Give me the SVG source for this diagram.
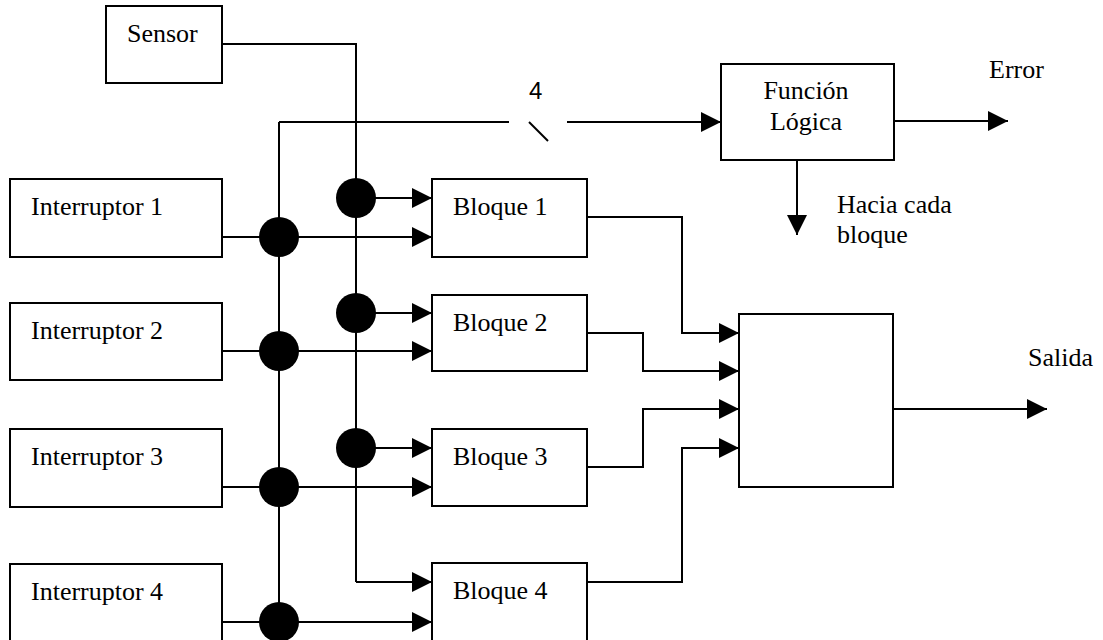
<svg xmlns="http://www.w3.org/2000/svg" width="1103" height="640" viewBox="0 0 1103 640">
<style>
.box{fill:#fff;stroke:#000;stroke-width:2}
.t{font-family:"Liberation Serif","Times New Roman",serif;font-size:26px;fill:#000}
.w{fill:none;stroke:#000;stroke-width:2}
.a{marker-end:url(#arr)}
.dot{fill:#000}
</style>
<defs>
<marker id="arr" markerUnits="userSpaceOnUse" markerWidth="20" markerHeight="20" refX="20" refY="10" orient="auto">
<path d="M0,0 L20,10 L0,20 z" fill="#000"/>
</marker>
</defs>
<rect width="1103" height="640" fill="#fff"/>
<g id="connectors">
<polyline class="w" points="222,44 356,44 356,582"/>
<path class="w a" d="M356,582 H432"/>
<path class="w" d="M279,122 V622"/>
<path class="w" d="M279,122 H509"/>
<path class="w a" d="M567,122 H721"/>
<path class="w" d="M529,122 L548,141"/>
<path class="w a" d="M222,237 H432"/>
<path class="w a" d="M222,351 H432"/>
<path class="w a" d="M222,487 H432"/>
<path class="w a" d="M222,622 H432"/>
<path class="w a" d="M356,198 H432"/>
<path class="w a" d="M356,313 H432"/>
<path class="w a" d="M356,448 H432"/>
<polyline class="w a" points="587,217 682,217 682,333 739,333"/>
<polyline class="w a" points="587,333 643,333 643,371 739,371"/>
<polyline class="w a" points="587,467 643,467 643,409 739,409"/>
<polyline class="w a" points="587,582 682,582 682,448 739,448"/>
<path class="w a" d="M894,121 H1008"/>
<path class="w a" d="M797,160 V235"/>
<path class="w a" d="M893,409 H1047"/>
<circle class="dot" cx="279" cy="237" r="20"/>
<circle class="dot" cx="279" cy="351" r="20"/>
<circle class="dot" cx="279" cy="487" r="20"/>
<circle class="dot" cx="279" cy="622" r="20"/>
<circle class="dot" cx="356" cy="198" r="20"/>
<circle class="dot" cx="356" cy="313" r="20"/>
<circle class="dot" cx="356" cy="448" r="20"/>
<text x="529" y="99" font-family="Liberation Sans, Arial, sans-serif" font-size="24">4</text>
</g>
<g id="sensor"><rect class="box" x="106" y="6" width="116" height="77"/><text class="t" x="127" y="42">Sensor</text></g>
<g id="int1"><rect class="box" x="10" y="179" width="212" height="78"/><text class="t" x="31" y="215">Interruptor 1</text></g>
<g id="int2"><rect class="box" x="10" y="303" width="212" height="77"/><text class="t" x="31" y="339">Interruptor 2</text></g>
<g id="int3"><rect class="box" x="10" y="429" width="212" height="78"/><text class="t" x="31" y="465">Interruptor 3</text></g>
<g id="int4"><rect class="box" x="10" y="564" width="212" height="80"/><text class="t" x="31" y="600">Interruptor 4</text></g>
<g id="bloque1"><rect class="box" x="432" y="179" width="155" height="78"/><text class="t" x="453" y="215">Bloque 1</text></g>
<g id="bloque2"><rect class="box" x="432" y="295" width="155" height="76"/><text class="t" x="453" y="331">Bloque 2</text></g>
<g id="bloque3"><rect class="box" x="432" y="429" width="155" height="77"/><text class="t" x="453" y="465">Bloque 3</text></g>
<g id="bloque4"><rect class="box" x="432" y="563" width="155" height="80"/><text class="t" x="453" y="599">Bloque 4</text></g>
<g id="funcion"><rect class="box" x="721" y="64" width="173" height="96"/><text class="t" x="806" y="99" text-anchor="middle">Función</text><text class="t" x="806" y="130" text-anchor="middle">Lógica</text></g>
<g id="salidaBox"><rect class="box" x="739" y="314" width="154" height="173"/></g>
<g id="labels">
<text class="t" x="989" y="78">Error</text>
<text class="t" x="837" y="213">Hacia cada</text>
<text class="t" x="837" y="243">bloque</text>
<text class="t" x="1028" y="366">Salida</text>
</g>
</svg>
